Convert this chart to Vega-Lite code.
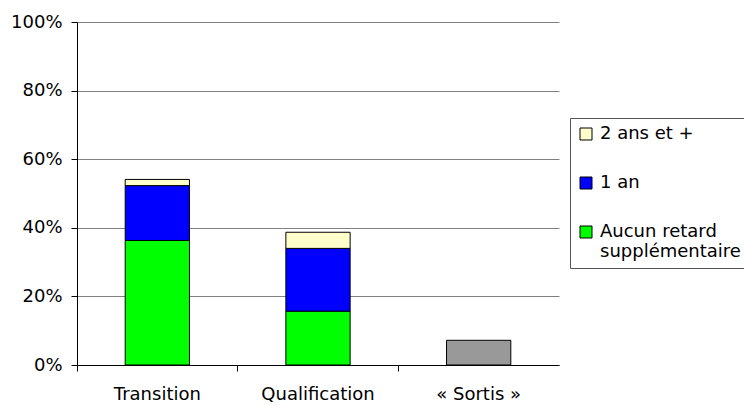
{
  "$schema": "https://vega.github.io/schema/vega-lite/v6.json",
  "width": 482,
  "height": 343,
  "autosize": {"type": "none"},
  "padding": {"left": 77, "top": 22, "right": 185, "bottom": 40},
  "background": "white",
  "config": {
    "view": {"stroke": null},
    "font": "DejaVu Sans"
  },
  "data": {
    "values": [
      {"cat": "Transition", "grp": "Aucun retard supplémentaire", "val": 0.363, "o": 1},
      {"cat": "Transition", "grp": "1 an", "val": 0.160, "o": 2},
      {"cat": "Transition", "grp": "2 ans et +", "val": 0.018, "o": 3},
      {"cat": "Qualification", "grp": "Aucun retard supplémentaire", "val": 0.157, "o": 1},
      {"cat": "Qualification", "grp": "1 an", "val": 0.183, "o": 2},
      {"cat": "Qualification", "grp": "2 ans et +", "val": 0.047, "o": 3},
      {"cat": "« Sortis »", "grp": "Sortis", "val": 0.072, "o": 1}
    ]
  },
  "mark": {"type": "bar", "stroke": "black", "strokeWidth": 1},
  "encoding": {
    "x": {
      "field": "cat",
      "type": "nominal",
      "sort": ["Transition", "Qualification", "« Sortis »"],
      "scale": {"paddingInner": 0.6, "paddingOuter": 0.3},
      "axis": {
        "title": null,
        "labelAngle": 0,
        "bandPosition": -0.75,
        "domainColor": "black",
        "tickColor": "black",
        "tickSize": 6,
        "labelFontSize": 18,
        "labelColor": "black",
        "labelPadding": 14
      }
    },
    "y": {
      "field": "val",
      "type": "quantitative",
      "stack": "zero",
      "scale": {"domain": [0, 1]},
      "axis": {
        "title": null,
        "values": [0, 0.2, 0.4, 0.6, 0.8, 1],
        "format": ".0%",
        "grid": true,
        "gridColor": "#808080",
        "gridWidth": 1,
        "domainColor": "black",
        "tickColor": "black",
        "tickSize": 6,
        "labelFontSize": 18,
        "labelColor": "black",
        "labelPadding": 9
      }
    },
    "color": {
      "field": "grp",
      "type": "nominal",
      "scale": {
        "domain": ["Aucun retard supplémentaire", "1 an", "2 ans et +", "Sortis"],
        "range": ["#00FF00", "#0000FF", "#FFFFCC", "#999999"]
      },
      "legend": {
        "title": null,
        "orient": "none",
        "legendX": 493,
        "legendY": 96,
        "values": ["2 ans et +", "1 an", "Aucun retard supplémentaire"],
        "labelExpr": "datum.value == 'Aucun retard supplémentaire' ? ['Aucun retard', 'supplémentaire'] : datum.label",
        "strokeColor": "#555555",
        "fillColor": "white",
        "padding": 7,
        "symbolType": "square",
        "symbolSize": 144,
        "symbolStrokeColor": "black",
        "symbolStrokeWidth": 1,
        "symbolOpacity": 1,
        "labelFontSize": 18,
        "labelColor": "black",
        "labelLimit": 300,
        "labelOffset": 5,
        "rowPadding": 31,
        "encoding": {
          "labels": {
            "update": {
              "lineHeight": {"value": 22},
              "dy": {"signal": "datum.value == 'Aucun retard supplémentaire' ? 11 : 0"}
            }
          }
        }
      }
    },
    "order": {"field": "o", "type": "quantitative"}
  }
}
